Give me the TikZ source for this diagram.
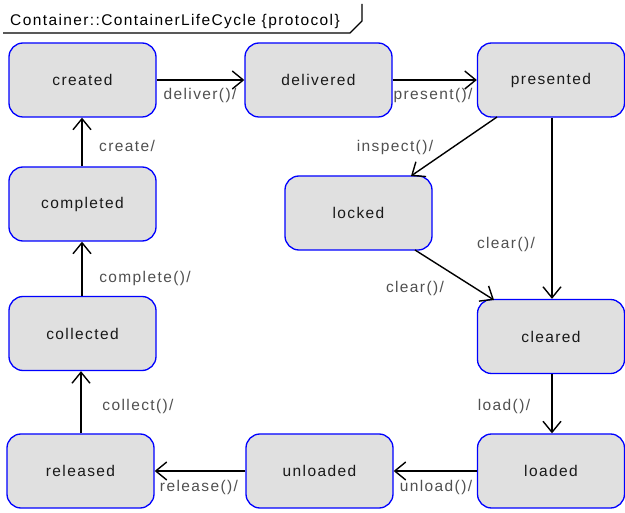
\documentclass[tikz,border=0pt]{standalone}
\usepackage{fontspec}
\setmainfont{Liberation Sans}[LetterSpace=9]
\usetikzlibrary{arrows.meta}
\definecolor{boxfill}{HTML}{E0E0E0}
\definecolor{boxline}{HTML}{0000FF}
\definecolor{lblcol}{HTML}{505050}
\tikzset{
  state/.style={draw=boxline, line width=1.3pt, fill=boxfill, rounded corners=14pt,
    minimum width=147pt, minimum height=74pt, inner sep=0pt,
    font=\fontsize{15.5}{18}\selectfont, text=black!90},
  lbl/.style={anchor=base, inner sep=0pt, text=lblcol, font=\fontsize{15.5}{18}\selectfont},
  tr/.style={line width=1.4pt, -{Straight Barb[length=11pt, width=18pt, line width=1.4pt]}},
}
\begin{document}
\begin{tikzpicture}[x=1pt, y=-1pt]
\useasboundingbox (0,0) rectangle (625,513);
% header
\node[anchor=base west, inner sep=0pt, font=\fontsize{15.5}{18}\selectfont] (title) at (10,26) {Container::ContainerLifeCycle \{protocol\}};
\coordinate (h0) at (3,33);
\coordinate (h1) at (350,33);
\coordinate (h2) at (362,21);
\coordinate (h3) at (362,4);
\draw[line width=1.4pt] (h0) -- (h1) -- (h2) -- (h3);
% states
\node[state] (created)   at (82.5,80)  {created};
\node[state] (delivered) at (318.5,80) {delivered};
\node[state] (presented) at (551,80)   {presented};
\node[state] (locked)    at (358.5,213){locked};
\node[state] (completed) at (82.5,204) {completed};
\node[state] (collected) at (82.5,333.5) {collected};
\node[state] (cleared)   at (551,336.5){cleared};
\node[state] (released)  at (80.5,471) {released};
\node[state] (unloaded)  at (319.5,471){unloaded};
\node[state] (loaded)    at (551,471)  {loaded};
% transitions
\draw[tr] (created) -- (delivered);
\draw[tr] (delivered) -- (presented);
\coordinate (pl) at (497,117);
\coordinate (lt) at (411,176);
\draw[tr] (pl) -- (lt);
\draw[tr] (presented.south -| 552,0) -- (cleared.north -| 552,0);
\coordinate (lb) at (415,250);
\coordinate (ct) at (494,300);
\draw[tr] (lb) -- (ct);
\draw[tr] (cleared.south -| 552,0) -- (loaded.north -| 552,0);
\draw[tr] (loaded) -- (unloaded);
\draw[tr] (unloaded) -- (released);
\draw[tr] (released.north -| 81,0) -- (collected.south -| 81,0);
\draw[tr] (collected.north -| 82,0) -- (completed.south -| 82,0);
\draw[tr] (completed.north -| 82,0) -- (created.south -| 82,0);
% labels
\node[lbl] (l1)  at (200,100) {deliver()/};
\node[lbl] (l2)  at (433,100) {present()/};
\node[lbl] (l3)  at (395,152) {inspect()/};
\node[lbl] (l4)  at (506,249) {clear()/};
\node[lbl] (l5)  at (415,293) {clear()/};
\node[lbl] (l6)  at (127,152) {create/};
\node[lbl] (l7)  at (145,283) {complete()/};
\node[lbl] (l8)  at (138,411) {collect()/};
\node[lbl] (l9)  at (199,492) {release()/};
\node[lbl] (l10) at (436,492) {unload()/};
\node[lbl] (l11) at (504,411) {load()/};
\end{tikzpicture}
\end{document}
